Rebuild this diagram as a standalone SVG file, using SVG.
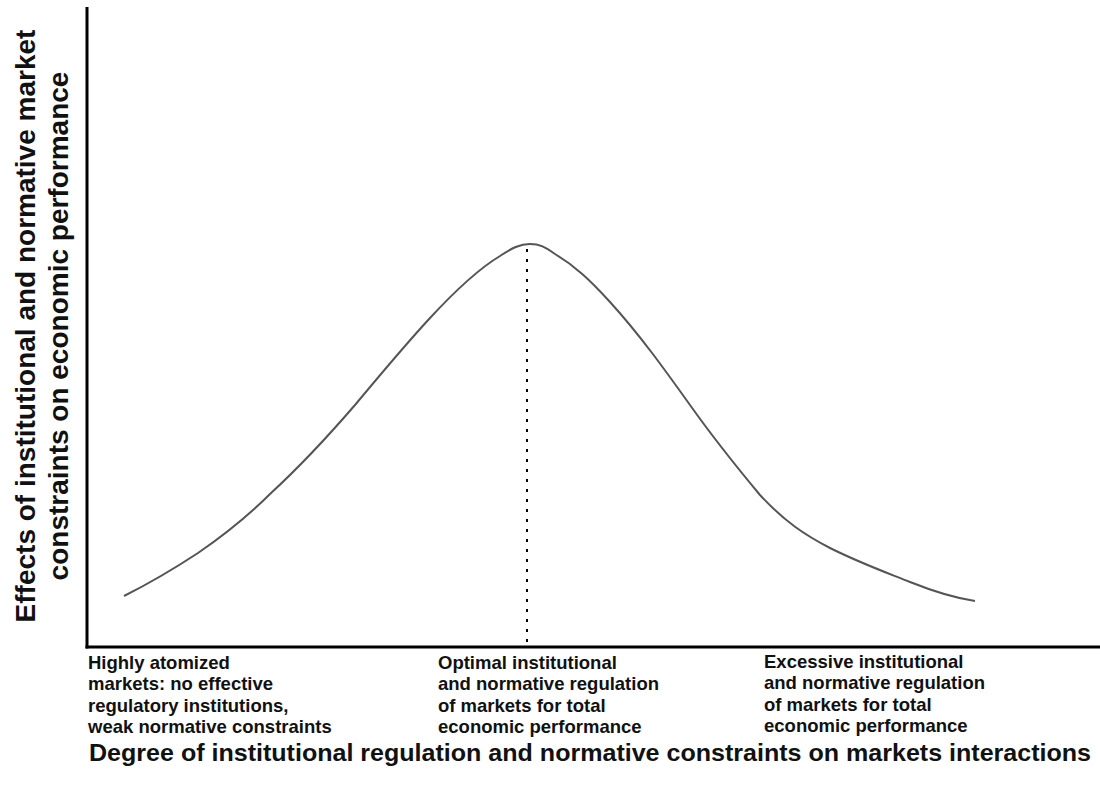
<svg xmlns="http://www.w3.org/2000/svg" width="1100" height="789" viewBox="0 0 1100 789">
<style>
.lbl{font-family:"Liberation Sans",Arial,sans-serif;font-weight:bold;font-size:18.5px;fill:#111}
.ax{font-family:"Liberation Sans",Arial,sans-serif;font-weight:bold;fill:#111}
</style>
<rect width="1100" height="789" fill="#fff"/>
<g id="axes" stroke="#000" stroke-width="3" fill="none">
<line x1="87" y1="7" x2="87" y2="648.5"/>
<line x1="85.5" y1="647" x2="1100" y2="647"/>
</g>
<g id="connectors">
<path id="curve" d="M124,596 C140,588 160,578 198,553 C230,531 250,514 270,494 C295,471 330,434 355,405 C380,375 405,345 430,318 C455,291 480,268 500,256 C512,248 520,244 530,244 C540,244 545,247 555,254 C575,266 590,280 610,302 C640,335 665,370 690,405 C712,436 735,465 760,495 C785,522 805,535 830,548 C860,563 885,572 910,582 C935,592 955,598 975,601" fill="none" stroke="#555" stroke-width="2"/>
<line id="optimum" x1="527" y1="249" x2="527" y2="642" stroke="#000" stroke-width="2" stroke-dasharray="3,7"/>
</g>
<g id="y-label" class="ax" font-size="28">
<text transform="translate(35,326) rotate(-90)" text-anchor="middle">Effects of institutional and normative market</text>
<text transform="translate(68,326) rotate(-90)" text-anchor="middle">constraints on economic performance</text>
</g>
<g id="left-label" class="lbl">
<text x="88" y="668.5">Highly atomized</text>
<text x="88" y="690">markets: no effective</text>
<text x="88" y="711.5">regulatory institutions,</text>
<text x="88" y="733">weak normative constraints</text>
</g>
<g id="middle-label" class="lbl">
<text x="438" y="668.5">Optimal institutional</text>
<text x="438" y="690">and normative regulation</text>
<text x="438" y="711.5">of markets for total</text>
<text x="438" y="733">economic performance</text>
</g>
<g id="right-label" class="lbl">
<text x="764" y="667.5">Excessive institutional</text>
<text x="764" y="689">and normative regulation</text>
<text x="764" y="710.5">of markets for total</text>
<text x="764" y="732">economic performance</text>
</g>
<g id="x-label" class="ax" font-size="24.5">
<text x="89" y="761" textLength="1002" lengthAdjust="spacingAndGlyphs">Degree of institutional regulation and normative constraints on markets interactions</text>
</g>
</svg>
